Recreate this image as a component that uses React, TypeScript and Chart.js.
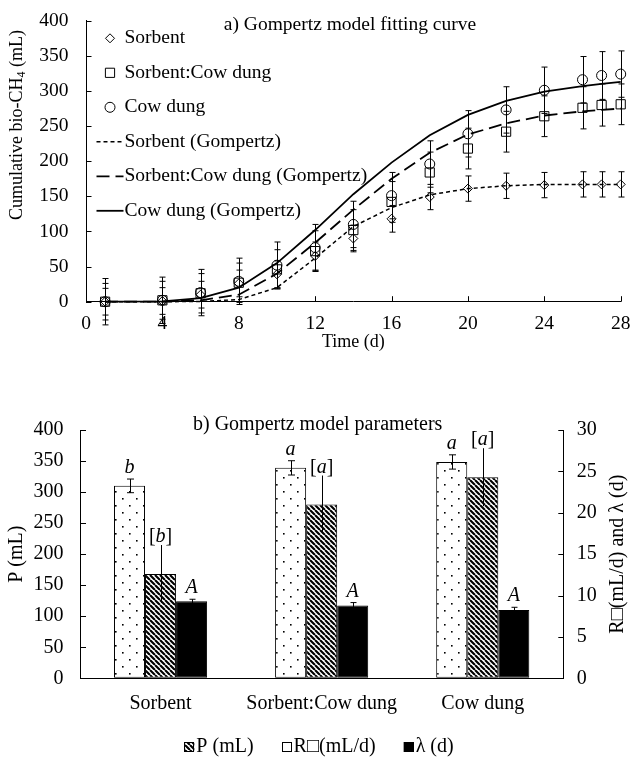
import React, { useEffect, useRef } from 'react';
import { Chart, registerables } from 'chart.js';

Chart.register(...registerables);

const SERIF = '"Liberation Serif", "Times New Roman", Times, serif';

// ---------- Panel a: cumulative bio-CH4 ----------
const days = [1, 4, 6, 8, 10, 12, 14, 16, 18, 20, 22, 24, 26, 27, 28];
const sorbentObs = [0, 1, 10, 26, 39, 65, 90, 118, 149, 161, 165, 166, 167, 167, 167];
const sorbentCowObs = [0, 2, 12, 27, 46, 72, 102, 142, 184, 218, 242, 264, 276, 280, 281];
const cowDungObs = [0, 2, 13, 29, 52, 77, 110, 151, 196, 239, 273, 301, 316, 322, 324];
const sorbentErr = [19, 19, 19, 19, 19, 20, 19, 19, 18, 18, 18, 18, 18, 18, 18];
const sorbentCowErr = [26, 27, 28, 28, 28, 29, 29, 29, 29, 29, 29, 29, 30, 30, 29];
const cowDungErr = [33, 33, 33, 33, 33, 33, 33, 33, 33, 33, 33, 33, 33, 34, 33];
const sorbentFit = [0, 0, 0.3, 3, 20, 62, 107, 134, 152, 161, 165, 167, 167, 167, 167];
const sorbentCowFit = [0, 0.2, 2, 10, 40, 84, 131, 175, 212, 238, 254, 265, 271, 273, 275];
const cowDungFit = [0, 0.5, 5, 20, 55, 102, 153, 198, 237, 266, 286, 299, 307, 310, 313];
const seriesNames = ['Sorbent', 'Sorbent:Cow dung', 'Cow dung'];
const fitNames = ['Sorbent (Gompertz)', 'Sorbent:Cow dung (Gompertz)', 'Cow dung (Gompertz)'];
const panelATitle = 'a) Gompertz model fitting curve';

// ---------- Panel b: Gompertz parameters ----------
const paramCategories = ['Sorbent', 'Sorbent:Cow dung', 'Cow dung'];
const pValues = [310, 339, 348.5];
const pErr = [11, 11.5, 11.5];
const pLetters = ['b', 'a', 'a'];
const rValues = [12.6, 21.0, 24.3];
const rErr = [3.5, 3.5, 3.5];
const rLetters = ['[b]', '[a]', '[a]'];
const lagValues = [9.3, 8.8, 8.25];
const lagErr = [0.25, 0.35, 0.33];
const lagLetters = ['A', 'A', 'A'];
const paramLegend = ['P (mL)', 'R\u25A1(mL/d)', '\u03BB (d)'];
const panelBTitle = 'b) Gompertz model parameters';

function makeDots(): CanvasPattern | string {
  const c = document.createElement('canvas');
  c.width = 14; c.height = 14;
  const g = c.getContext('2d');
  if (!g) return '#fff';
  g.fillStyle = '#fff'; g.fillRect(0, 0, 14, 14);
  g.fillStyle = '#000';
  g.fillRect(3, 3, 1.6, 1.6);
  g.fillRect(10, 10, 1.6, 1.6);
  return g.createPattern(c, 'repeat') || '#fff';
}

function makeHatch(): CanvasPattern | string {
  const s = 5;
  const c = document.createElement('canvas');
  c.width = s; c.height = s;
  const g = c.getContext('2d');
  if (!g) return '#888';
  g.fillStyle = '#fff'; g.fillRect(0, 0, s, s);
  g.strokeStyle = '#000'; g.lineWidth = 2.1;
  g.beginPath();
  for (const k of [-1, 0, 1]) { g.moveTo(k * s, 0); g.lineTo(k * s + s, s); }
  g.stroke();
  return g.createPattern(c, 'repeat') || '#888';
}

function drawText(ctx: CanvasRenderingContext2D, s: string, x: number, y: number, font: string, align: CanvasTextAlign = 'center', baseline: CanvasTextBaseline = 'middle', rot = 0) {
  ctx.save();
  ctx.translate(x, y);
  if (rot) ctx.rotate(rot);
  ctx.font = font;
  ctx.fillStyle = '#000';
  ctx.textAlign = align;
  ctx.textBaseline = baseline;
  ctx.fillText(s, 0, 0);
  ctx.restore();
}

function drawMarker(ctx: CanvasRenderingContext2D, style: string, x: number, y: number, r: number) {
  ctx.beginPath();
  if (style === 'rectRot') {
    ctx.moveTo(x - r, y); ctx.lineTo(x, y - r); ctx.lineTo(x + r, y); ctx.lineTo(x, y + r); ctx.closePath();
  } else if (style === 'rect') {
    const s = r * Math.SQRT1_2;
    ctx.rect(x - s, y - s, 2 * s, 2 * s);
  } else {
    ctx.arc(x, y, r, 0, Math.PI * 2);
  }
  ctx.stroke();
}

// error bars for any dataset carrying `errors`
const errorBars = {
  id: 'errorBars',
  afterDatasetsDraw(chart: any) {
    const ctx: CanvasRenderingContext2D = chart.ctx;
    ctx.save();
    ctx.strokeStyle = '#000';
    ctx.lineWidth = 1;
    chart.data.datasets.forEach((ds: any, i: number) => {
      if (!ds.errors) return;
      const meta = chart.getDatasetMeta(i);
      const ys = chart.scales[meta.yAxisID];
      const cap = ds.capHalf || 0;
      meta.data.forEach((el: any, j: number) => {
        const raw = ds.data[j];
        const v = typeof raw === 'number' ? raw : raw.y;
        const e = ds.errors[j];
        const x = Math.round(el.x) + 0.5;
        const yt = ys.getPixelForValue(v + e);
        const yb = ys.getPixelForValue(v - e);
        ctx.beginPath();
        ctx.moveTo(x, yt); ctx.lineTo(x, yb);
        if (cap) {
          ctx.moveTo(x - cap, yt); ctx.lineTo(x + cap, yt);
          ctx.moveTo(x - cap, yb); ctx.lineTo(x + cap, yb);
        }
        ctx.stroke();
      });
    });
    ctx.restore();
  },
};

const inwardTicks = {
  id: 'inwardTicks',
  afterDraw(chart: any, _a: any, opts: any) {
    const ctx: CanvasRenderingContext2D = chart.ctx;
    const ca = chart.chartArea;
    ctx.save();
    ctx.strokeStyle = '#000';
    ctx.lineWidth = 1;
    for (const spec of opts.specs || []) {
      const sc = chart.scales[spec.id];
      sc.ticks.forEach((t: any) => {
        const p = Math.round(sc.getPixelForValue(t.value)) + 0.5;
        ctx.beginPath();
        if (spec.side === 'left') { ctx.moveTo(ca.left, p); ctx.lineTo(ca.left + spec.len, p); }
        else if (spec.side === 'right') { ctx.moveTo(ca.right, p); ctx.lineTo(ca.right - spec.len, p); }
        else { ctx.moveTo(p, ca.bottom); ctx.lineTo(p, ca.bottom - spec.len); }
        ctx.stroke();
      });
    }
    ctx.restore();
  },
};

const panelADecor = {
  id: 'panelADecor',
  afterDraw(chart: any) {
    const ctx: CanvasRenderingContext2D = chart.ctx;
    const ca = chart.chartArea;
    const f19 = '19.5px ' + SERIF;
    // title
    drawText(ctx, panelATitle, ca.left + 264, 25, f19);
    // x title
    drawText(ctx, 'Time (d)', (ca.left + ca.right) / 2, 342, '18px ' + SERIF);
    // y title with subscript
    ctx.save();
    ctx.translate(17, 125);
    ctx.rotate(-Math.PI / 2);
    ctx.fillStyle = '#000';
    ctx.textBaseline = 'middle';
    ctx.textAlign = 'left';
    const mainF = '18px ' + SERIF, subF = '12px ' + SERIF;
    const a = 'Cumulative bio-CH', b = '4', c = ' (mL)';
    ctx.font = mainF; const wa = ctx.measureText(a).width; const wc = ctx.measureText(c).width;
    ctx.font = subF; const wb = ctx.measureText(b).width;
    const start = -(wa + wb + wc) / 2;
    ctx.font = mainF; ctx.fillText(a, start, 0);
    ctx.font = subF; ctx.fillText(b, start + wa, 5);
    ctx.font = mainF; ctx.fillText(c, start + wa + wb, 0);
    ctx.restore();
    // legend
    ctx.save();
    ctx.strokeStyle = '#000';
    const rowY0 = ca.top + 17.6, rowH = 34.5;
    chart.data.datasets.forEach((ds: any, i: number) => {
      const y = rowY0 + i * rowH;
      ctx.save();
      if (ds.showLine === false) {
        ctx.lineWidth = 1;
        drawMarker(ctx, ds.pointStyle, ca.left + 24, y, ds.pointRadius);
      } else {
        ctx.lineWidth = ds.borderWidth;
        ctx.setLineDash(ds.borderDash || []);
        ctx.beginPath();
        ctx.moveTo(ca.left + 10.5, y);
        ctx.lineTo(ca.left + 37.5, y);
        ctx.stroke();
      }
      ctx.restore();
      drawText(ctx, ds.label, ca.left + 38.5, y, f19, 'left');
    });
    ctx.restore();
  },
};

function drawLetter(ctx: CanvasRenderingContext2D, s: string, cx: number, baseY: number) {
  const it = 'italic 20px ' + SERIF, up = '20px ' + SERIF;
  const parts: [string, string][] = [];
  if (s.startsWith('[')) { parts.push(['[', up], [s.slice(1, -1), it], [']', up]); }
  else parts.push([s, it]);
  ctx.save();
  ctx.fillStyle = '#000';
  ctx.textBaseline = 'alphabetic';
  ctx.textAlign = 'left';
  let total = 0;
  const ws = parts.map(([t, f]) => { ctx.font = f; const w = ctx.measureText(t).width; total += w; return w; });
  let x = cx - total / 2;
  parts.forEach(([t, f], k) => { ctx.font = f; ctx.fillText(t, x, baseY); x += ws[k]; });
  ctx.restore();
}

const panelBDecor = {
  id: 'panelBDecor',
  afterDraw(chart: any) {
    const ctx: CanvasRenderingContext2D = chart.ctx;
    const ca = chart.chartArea;
    const f20 = '20px ' + SERIF;
    // letters
    chart.data.datasets.forEach((ds: any, i: number) => {
      const meta = chart.getDatasetMeta(i);
      const ys = chart.scales[meta.yAxisID];
      meta.data.forEach((el: any, j: number) => {
        const top = ys.getPixelForValue(ds.data[j] + ds.errors[j]);
        drawLetter(ctx, ds.letters[j], el.x, top - ds.letterGap);
      });
    });
    // titles
    drawText(ctx, panelBTitle, (ca.left + ca.right) / 2 - 4, 35, f20);
    drawText(ctx, 'P (mL)', 17, (ca.top + ca.bottom) / 2, f20, 'center', 'middle', -Math.PI / 2);
    drawText(ctx, 'R\u25A1(mL/d) and \u03BB (d)', 618, (ca.top + ca.bottom) / 2, f20, 'center', 'middle', -Math.PI / 2);
    // legend
    const fills = [chart.data.datasets[1].backgroundColor, '#fff', '#000'];
    ctx.save();
    ctx.font = f20;
    const widths = paramLegend.map((t) => ctx.measureText(t).width);
    const gap = 28, box = 10, tgap = 2;
    const total = widths.reduce((s, w) => s + w + box + tgap, 0) + gap * (paramLegend.length - 1);
    let x = 319 - total / 2;
    const y = 357;
    paramLegend.forEach((t, k) => {
      ctx.fillStyle = fills[k];
      ctx.fillRect(x, y - box / 2, box, box);
      ctx.strokeStyle = '#000';
      ctx.lineWidth = 1;
      ctx.strokeRect(Math.round(x) + 0.5, Math.round(y - box / 2) + 0.5, box - 1, box - 1);
      drawText(ctx, t, x + box + tgap, y, f20, 'left');
      x += box + tgap + widths[k] + gap;
    });
    ctx.restore();
  },
};

function buildTop(): any {
  const tickFont = { family: SERIF, size: 19.5 };
  const obs = (name: string, vals: number[], errs: number[], style: string, r: number) => ({
    label: name,
    data: days.map((d, i) => ({ x: d, y: vals[i] })),
    errors: errs,
    capHalf: 3,
    showLine: false,
    pointStyle: style,
    pointRadius: r,
    pointBorderWidth: 1,
    pointBorderColor: '#000',
    pointBackgroundColor: 'rgba(0,0,0,0)',
    borderColor: '#000',
    backgroundColor: 'rgba(0,0,0,0)',
    clip: false,
  });
  const fit = (name: string, vals: number[], dash: number[], w: number) => ({
    label: name,
    data: days.map((d, i) => ({ x: d, y: vals[i] })),
    borderColor: '#000',
    borderWidth: w,
    borderDash: dash,
    pointRadius: 0,
    fill: false,
    tension: 0,
    clip: false,
  });
  return {
    type: 'line',
    data: {
      datasets: [
        obs(seriesNames[0], sorbentObs, sorbentErr, 'rectRot', 4.5),
        obs(seriesNames[1], sorbentCowObs, sorbentCowErr, 'rect', 6.5),
        obs(seriesNames[2], cowDungObs, cowDungErr, 'circle', 5),
        fit(fitNames[0], sorbentFit, [4, 3], 1.5),
        fit(fitNames[1], sorbentCowFit, [13, 6], 1.8),
        fit(fitNames[2], cowDungFit, [], 1.8),
      ],
    },
    options: {
      animation: false,
      responsive: false,
      events: [],
      layout: { padding: { left: 0, right: 9.3, top: 20.7, bottom: 0 } },
      plugins: {
        legend: { display: false },
        tooltip: { enabled: false },
        inwardTicks: { specs: [{ id: 'y', side: 'left', len: 5.5 }, { id: 'x', side: 'bottom', len: 5.5 }] },
      },
      scales: {
        x: {
          type: 'linear', min: 0, max: 28,
          ticks: { stepSize: 4, font: tickFont, color: '#000', padding: 10, maxRotation: 0, autoSkip: false },
          grid: { drawOnChartArea: false, drawTicks: false },
          border: { display: true, color: '#000', width: 1 },
          afterFit: (s: any) => { s.height = 88.3; s.paddingLeft = 0; s.paddingRight = 0; },
        },
        y: {
          type: 'linear', min: 0, max: 400,
          ticks: { stepSize: 50, font: tickFont, color: '#000', padding: 17.5 },
          grid: { drawOnChartArea: false, drawTicks: false },
          border: { display: true, color: '#000', width: 1 },
          afterFit: (s: any) => { s.width = 86; s.paddingTop = 0; s.paddingBottom = 0; },
        },
      },
    },
    plugins: [errorBars, inwardTicks, panelADecor],
  };
}

function buildBottom(): any {
  const tickFont = { family: SERIF, size: 20 };
  const dots = makeDots();
  const hatch = makeHatch();
  const common = { borderColor: '#000', borderWidth: 1, borderSkipped: false, categoryPercentage: 0.578, barPercentage: 1 };
  return {
    type: 'bar',
    data: {
      labels: paramCategories,
      datasets: [
        { ...common, label: 'P', data: pValues, errors: pErr, letters: pLetters, capHalf: 3.5, letterGap: 6, yAxisID: 'yL', backgroundColor: dots },
        { ...common, label: 'R', data: rValues, errors: rErr, letters: rLetters, capHalf: 0, letterGap: 3, yAxisID: 'yR', backgroundColor: hatch },
        { ...common, label: 'lambda', data: lagValues, errors: lagErr, letters: lagLetters, capHalf: 3, letterGap: 6, yAxisID: 'yR', backgroundColor: '#000' },
      ],
    },
    options: {
      animation: false,
      responsive: false,
      events: [],
      layout: { padding: { left: 0, right: 0, top: 40, bottom: 0 } },
      plugins: {
        legend: { display: false },
        tooltip: { enabled: false },
        inwardTicks: { specs: [{ id: 'yL', side: 'left', len: 6 }, { id: 'yR', side: 'right', len: 5 }] },
      },
      scales: {
        x: {
          type: 'category',
          ticks: { font: tickFont, color: '#000', padding: 13, maxRotation: 0, autoSkip: false },
          grid: { drawOnChartArea: false, drawTicks: false },
          border: { display: true, color: '#000', width: 1 },
          afterFit: (s: any) => { s.height = 81.7; s.paddingLeft = 0; s.paddingRight = 0; },
        },
        yL: {
          type: 'linear', position: 'left', min: 0, max: 400,
          ticks: { stepSize: 50, font: tickFont, color: '#000', padding: 16.5 },
          grid: { drawOnChartArea: false, drawTicks: false },
          border: { display: true, color: '#000', width: 1 },
          afterFit: (s: any) => { s.width = 80; s.paddingTop = 0; s.paddingBottom = 0; },
        },
        yR: {
          type: 'linear', position: 'right', min: 0, max: 30,
          ticks: { stepSize: 5, font: tickFont, color: '#000', padding: 13.5 },
          grid: { drawOnChartArea: false, drawTicks: false },
          border: { display: true, color: '#000', width: 1 },
          afterFit: (s: any) => { s.width = 66.7; s.paddingTop = 0; s.paddingBottom = 0; },
        },
      },
    },
    plugins: [errorBars, inwardTicks, panelBDecor],
  };
}

export default function App() {
  const topRef = useRef<HTMLCanvasElement>(null);
  const botRef = useRef<HTMLCanvasElement>(null);
  useEffect(() => {
    const charts: Chart[] = [];
    if (topRef.current) charts.push(new Chart(topRef.current, buildTop()));
    if (botRef.current) charts.push(new Chart(botRef.current, buildBottom()));
    return () => charts.forEach((c) => c.destroy());
  }, []);
  return (
    <div style={{ position: 'absolute', left: 0, top: 0, width: 630, height: 760, background: '#fff' }}>
      <canvas ref={topRef} width={630} height={390} style={{ position: 'absolute', left: 0, top: 0, width: 630, height: 390, display: 'block' }} />
      <canvas ref={botRef} width={630} height={370} style={{ position: 'absolute', left: 0, top: 390, width: 630, height: 370, display: 'block' }} />
    </div>
  );
}
